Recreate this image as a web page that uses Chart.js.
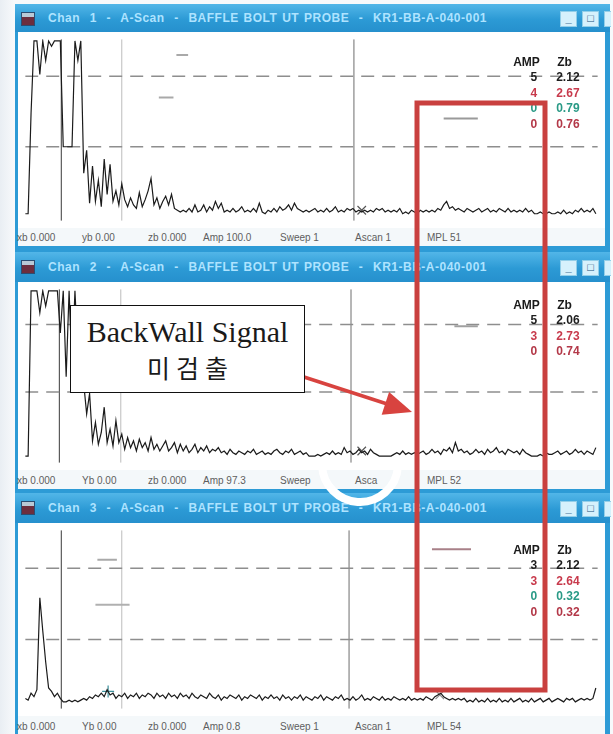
<!DOCTYPE html>
<html>
<head>
<meta charset="utf-8">
<script src="https://cdn.jsdelivr.net/npm/chart.js@4.4.1/dist/chart.umd.min.js"></script>
<style>
  html, body { margin: 0; padding: 0; }
  body { width: 613px; height: 734px; position: relative; overflow: hidden;
         background: linear-gradient(90deg, #e9eef3 0, #f7f9fb 14px, #f7f9fb 100%);
         font-family: "Liberation Sans", Arial, sans-serif; }
  .win { position: absolute; left: 15px; width: 595px; background: #2d9bd6; }
  .bar { position: absolute; left: 0; right: 0; top: 0;
         background: linear-gradient(#52b6e8, #2c9ad5 55%, #2690cd); }
  .ico { position: absolute; left: 6px; top: 8px; width: 12px; height: 12px;
         background: #6d2e3e; border: 1px solid #2b4d72; box-shadow: inset 0 4px 0 #b9c9d6; }
  .cap { position: absolute; left: 33px; color: #aee3ff; font-size: 12px; font-weight: bold;
         letter-spacing: 0.5px; word-spacing: 1px; white-space: pre; }
  .btn { position: absolute; width: 15px; height: 14px; background: #d6f1fc; border: 1px solid #93cfe9;
         color: #20507a; font-size: 11px; line-height: 12px; text-align: center; font-weight: bold; }
  .plot { position: absolute; left: 3px; background: #fff; }
  .status { position: absolute; left: 3px; width: 587px; background: #f4f8fa; color: #5e5e5e; font-size: 10px; }
  .status span { position: absolute; white-space: pre; }
  #marks { position: absolute; left: 0; top: 0; z-index: 5; pointer-events: none; }
  #callout { position: absolute; left: 70px; top: 305px; width: 233px; height: 86px; z-index: 6;
             background: #fff; border: 1.5px solid #111; text-align: center; color: #1a1a1a; }
  #callout .en { font-family: "Liberation Serif", "Times New Roman", serif; font-size: 30px; margin-top: 10px; line-height: 32px; }
  #callout .ko { font-family: "Noto Sans CJK KR", sans-serif; font-size: 25px; font-weight: 400; letter-spacing: 6px;
                 line-height: 34px; margin-top: 2px; padding-left: 6px; }
</style>
</head>
<body>
<canvas id="marks" width="613" height="734"></canvas>
<div id="callout"><div class="en">BackWall Signal</div><div class="ko">미검출</div></div>
<script>
// sweep sampling: one amplitude value every STEP units along the time base
const STEP = 3;
const SWEEP_END = 587;

// amplitude (% screen height) per sample, channel 1
const ascan1 = [
  1, 1, 58, 99, 99, 80, 99, 88, 99, 96, 99, 99, 99, 39, 39, 39, 39, 99, 88, 99,
  24, 37, 7, 28, 8, 20, 5, 32, 12, 29, 8, 14, 6, 18, 9, 5, 10, 6, 4, 13,
  5, 9, 14, 21, 6, 10, 4, 8, 11, 6, 12, 4, 3, 2, 3, 2, 4, 2, 6, 2,
  3, 6, 2, 5, 3, 8, 4, 7, 2, 3, 2, 4, 2, 3, 5, 2, 3, 2, 4, 2,
  7, 2, 1, 3, 2, 4, 2, 5, 3, 4, 6, 3, 7, 4, 3, 2, 3, 2, 3, 4,
  2, 3, 2, 4, 2, 3, 5, 2, 3, 2, 4, 3, 4, 2, 3, 2, 3, 2, 3, 2,
  4, 3, 4, 2, 3, 2, 3, 2, 4, 1, 2, 1, 3, 2, 1, 3, 2, 3, 2, 3,
  2, 4, 3, 6, 8, 4, 5, 3, 4, 3, 2, 4, 3, 2, 3, 4, 2, 3, 4, 2,
  3, 2, 4, 3, 2, 4, 2, 3, 2, 3, 2, 4, 2, 3, 1, 1, 2, 1, 1, 2,
  1, 1, 2, 1, 3, 1, 2, 1, 3, 2, 4, 2, 3, 2, 4, 1
];

// channel 2
const ascan2 = [
  1, 1, 99, 99, 99, 86, 99, 90, 99, 99, 99, 99, 74, 99, 48, 99, 52, 99, 62, 48,
  44, 26, 38, 10, 21, 8, 15, 30, 9, 17, 7, 22, 9, 14, 5, 12, 6, 10, 4, 11,
  6, 9, 4, 12, 5, 8, 4, 7, 10, 4, 6, 9, 3, 8, 4, 7, 3, 5, 8, 3,
  6, 4, 7, 3, 5, 4, 6, 3, 4, 2, 5, 3, 2, 4, 3, 2, 4, 3, 5, 2,
  3, 4, 2, 3, 2, 4, 5, 3, 2, 4, 3, 5, 2, 3, 4, 2, 3, 1, 1, 1,
  2, 1, 2, 3, 2, 4, 2, 3, 2, 6, 3, 4, 2, 3, 5, 3, 4, 2, 5, 3,
  2, 1, 1, 1, 1, 1, 2, 3, 2, 4, 2, 3, 2, 3, 2, 3, 4, 2, 3, 5,
  3, 4, 2, 5, 4, 6, 3, 9, 4, 5, 3, 4, 2, 3, 5, 3, 4, 2, 5, 3,
  4, 6, 3, 4, 2, 5, 4, 3, 4, 2, 5, 3, 2, 1, 1, 1, 2, 1, 3, 2,
  2, 3, 4, 2, 3, 4, 2, 3, 5, 3, 4, 2, 4, 3, 2, 6
];

// channel 3
const ascan3 = [
  3, 2, 6, 4, 8, 61, 42, 24, 9, 7, 4, 6, 3, 1, 1, 2, 1, 2, 1, 2,
  3, 2, 4, 3, 5, 4, 6, 4, 8, 5, 6, 3, 5, 4, 6, 3, 5, 4, 6, 3,
  5, 4, 6, 5, 3, 6, 4, 5, 3, 6, 4, 5, 3, 6, 4, 5, 3, 6, 4, 3,
  5, 4, 3, 6, 4, 3, 5, 2, 4, 3, 5, 4, 3, 5, 2, 4, 3, 5, 4, 3,
  5, 2, 4, 3, 5, 3, 4, 2, 5, 3, 4, 2, 4, 3, 5, 2, 4, 3, 2, 4,
  3, 5, 2, 4, 3, 2, 4, 3, 5, 2, 3, 2, 4, 2, 3, 5, 2, 3, 2, 4,
  3, 2, 4, 2, 3, 2, 4, 3, 2, 3, 2, 4, 2, 3, 2, 3, 2, 4, 3, 2,
  4, 5, 6, 4, 3, 2, 3, 2, 3, 2, 3, 1, 2, 1, 3, 1, 2, 1, 3, 1,
  2, 1, 3, 1, 2, 1, 3, 1, 2, 3, 1, 2, 1, 3, 1, 2, 3, 1, 2, 3,
  1, 2, 3, 2, 1, 3, 2, 3, 1, 2, 3, 2, 3, 2, 3, 9
];

// dashed reference levels (% screen height)
const refLevels1 = [79, 39];
const refLevels2 = [79, 39];
const refLevels3 = [78, 37];

// cursor positions along the sweep
const cursors1 = [37, 99, 337];
const cursors2 = [35, 98, 334];
const cursors3 = [37, 99, 332];

// gates: [start, end, level, colour]
const gates1 = [[137, 152, 67, '#a9a9a9'], [155, 167, 91, '#a9a9a9'], [429, 464, 55, '#9a9a9a']];
const gates2 = [[440, 464, 78, '#a0a0a0']];
const gates3 = [[74, 94, 83, '#a9a9a9'], [72, 107, 57, '#b0b0b0'], [417, 457, 89, '#a88088']];

// peak markers: [position, amplitude, style, colour]
const peaks1 = [[345, 3, 'crossRot', '#555']];
const peaks2 = [[345, 4, 'crossRot', '#555']];
const peaks3 = [[85, 7, 'cross', '#3a8f9a'], [425, 5, 'crossRot', '#888']];

// AMP / Zb readouts
const amp1 = ['5', '4', '0', '0'];
const zb1 = ['2.12', '2.67', '0.79', '0.76'];
const rowColors1 = ['#1e1e1e', '#c83a4c', '#2a9a86', '#b33848'];
const amp2 = ['5', '3', '0'];
const zb2 = ['2.06', '2.73', '0.74'];
const rowColors2 = ['#1e1e1e', '#c83a4c', '#b33848'];
const amp3 = ['3', '3', '0', '0'];
const zb3 = ['2.12', '2.64', '0.32', '0.32'];
const rowColors3 = ['#1e1e1e', '#c83a4c', '#2a9a86', '#b33848'];

const captions = [
  'Chan  1  -  A-Scan  -  BAFFLE BOLT UT PROBE  -  KR1-BB-A-040-001',
  'Chan  2  -  A-Scan  -  BAFFLE BOLT UT PROBE  -  KR1-BB-A-040-001',
  'Chan  3  -  A-Scan  -  BAFFLE BOLT UT PROBE  -  KR1-BB-A-040-001'
];
const status1 = ['xb 0.000', 'yb 0.00', 'zb 0.000', 'Amp 100.0', 'Sweep 1', 'Ascan 1', 'MPL 51'];
const status2 = ['xb 0.000', 'Yb 0.00', 'zb 0.000', 'Amp 97.3', 'Sweep', 'Asca', 'MPL 52'];
const status3 = ['xb 0.000', 'Yb 0.00', 'zb 0.000', 'Amp 0.8', 'Sweep 1', 'Ascan 1', 'MPL 54'];
const statusX = [-1, 64, 130, 185, 262, 337, 409];

// draws the AMP/Zb readout block in the upper right of each scan
const ampTable = {
  id: 'ampTable',
  afterDatasetsDraw(chart, args, opts) {
    const ctx = chart.ctx;
    const left = chart.chartArea.left, top = chart.chartArea.top;
    ctx.save();
    ctx.font = 'bold 12px "Liberation Sans", Arial, sans-serif';
    ctx.textBaseline = 'middle';
    ctx.fillStyle = '#1a1a1a';
    ctx.textAlign = 'left';
    ctx.fillText('AMP', left + 488, top + opts.top);
    ctx.fillText('Zb', left + 532, top + opts.top);
    opts.amp.forEach((a, k) => {
      const y = top + opts.top + 15.5 * (k + 1);
      ctx.fillStyle = opts.colors[k];
      ctx.textAlign = 'right';
      ctx.fillText(a, left + 512, y);
      ctx.textAlign = 'left';
      ctx.fillText(opts.zb[k], left + 531, y);
    });
    ctx.restore();
  }
};

function buildScan(cfg) {
  const win = document.createElement('div');
  win.className = 'win';
  win.style.top = cfg.top + 'px';
  win.style.height = cfg.height + 'px';

  const bar = document.createElement('div');
  bar.className = 'bar';
  bar.style.height = cfg.barH + 'px';
  bar.innerHTML = '<div class="ico"></div>' +
    '<div class="cap" style="top:' + (cfg.barH / 2 - 7) + 'px">' + cfg.caption + '</div>' +
    '<div class="btn" style="left:545px;top:' + (cfg.barH / 2 - 7) + 'px">_</div>' +
    '<div class="btn" style="left:567px;top:' + (cfg.barH / 2 - 7) + 'px">&#9633;</div>' +
    '<div class="btn" style="left:589px;top:' + (cfg.barH / 2 - 7) + 'px;width:6px;border-right:0"></div>';
  win.appendChild(bar);

  const canvas = document.createElement('canvas');
  canvas.className = 'plot';
  canvas.width = 587;
  canvas.height = cfg.plotH;
  canvas.style.top = cfg.barH + 'px';
  win.appendChild(canvas);

  const st = document.createElement('div');
  st.className = 'status';
  st.style.top = (cfg.barH + cfg.plotH) + 'px';
  st.style.height = cfg.statusH + 'px';
  cfg.status.forEach((s, k) => {
    const sp = document.createElement('span');
    sp.textContent = s;
    sp.style.left = statusX[k] + 'px';
    sp.style.top = cfg.statusTextTop + 'px';
    st.appendChild(sp);
  });
  win.appendChild(st);
  document.body.appendChild(win);

  const cursorColors = ['#3a3a3a', '#bdbdbd', '#6e6e6e'];
  const datasets = [{
    data: cfg.trace.map((v, i) => ({ x: i * STEP, y: v })),
    borderColor: '#1b1b1b', borderWidth: 1.2, pointRadius: 0, order: 0
  }];
  cfg.levels.forEach(l => datasets.push({
    data: [{ x: 0, y: l }, { x: SWEEP_END, y: l }],
    borderColor: '#8e8e8e', borderWidth: 1.5, borderDash: [13, 8], pointRadius: 0, order: 3
  }));
  cfg.cursors.forEach((c, k) => datasets.push({
    data: [{ x: c, y: cfg.yMin }, { x: c, y: 100 }],
    borderColor: cursorColors[k], borderWidth: 1, pointRadius: 0, order: 4
  }));
  cfg.gates.forEach(g => datasets.push({
    data: [{ x: g[0], y: g[2] }, { x: g[1], y: g[2] }],
    borderColor: g[3], borderWidth: 2, pointRadius: 0, order: 2
  }));
  cfg.peaks.forEach(p => datasets.push({
    type: 'scatter',
    data: [{ x: p[0], y: p[1] }],
    pointStyle: p[2], pointRadius: 6, borderColor: p[3], borderWidth: 1.2, order: 1
  }));

  new Chart(canvas, {
    type: 'line',
    data: { datasets },
    options: {
      responsive: false,
      animation: false,
      events: [],
      layout: { padding: 0 },
      elements: { line: { tension: 0 } },
      scales: {
        x: { type: 'linear', min: 0, max: SWEEP_END, display: false },
        y: { min: cfg.yMin, max: 100, display: false }
      },
      plugins: {
        legend: { display: false },
        tooltip: { enabled: false },
        ampTable: { amp: cfg.amp, zb: cfg.zb, colors: cfg.colors, top: cfg.tableTop }
      }
    },
    plugins: [ampTable]
  });
}

buildScan({ top: 4, height: 248, barH: 28, plotH: 196, statusH: 18, statusTextTop: 4,
  caption: captions[0], status: status1, trace: ascan1, levels: refLevels1, cursors: cursors1,
  gates: gates1, peaks: peaks1, yMin: -3, amp: amp1, zb: zb1, colors: rowColors1, tableTop: 23 });
buildScan({ top: 252, height: 241, barH: 30, plotH: 188, statusH: 19, statusTextTop: 5,
  caption: captions[1], status: status2, trace: ascan2, levels: refLevels2, cursors: cursors2,
  gates: gates2, peaks: peaks2, yMin: -3, amp: amp2, zb: zb2, colors: rowColors2, tableTop: 16 });
buildScan({ top: 493, height: 241, barH: 30, plotH: 193, statusH: 18, statusTextTop: 5,
  caption: captions[2], status: status3, trace: ascan3, levels: refLevels3, cursors: cursors3,
  gates: gates3, peaks: peaks3, yMin: -3, amp: amp3, zb: zb3, colors: rowColors3, tableTop: 20 });

// highlight box, pointer arrow and the erased ring over channel 2's status bar
const mk = document.getElementById('marks').getContext('2d');
mk.strokeStyle = '#ffffff';
mk.lineWidth = 8;
mk.beginPath();
mk.arc(360, 464, 38, 0.02 * Math.PI, 0.98 * Math.PI);
mk.stroke();

mk.strokeStyle = '#c9403f';
mk.lineWidth = 5;
mk.strokeRect(417, 103, 128, 587);

mk.strokeStyle = '#d8433f';
mk.fillStyle = '#d8433f';
mk.lineWidth = 3.5;
const ax0 = 304, ay0 = 377, ax1 = 412, ay1 = 412;
const ang = Math.atan2(ay1 - ay0, ax1 - ax0);
mk.beginPath();
mk.moveTo(ax0, ay0);
mk.lineTo(ax1 - 22 * Math.cos(ang), ay1 - 22 * Math.sin(ang));
mk.stroke();
mk.beginPath();
mk.moveTo(ax1, ay1);
mk.lineTo(ax1 - 28 * Math.cos(ang) + 12 * Math.sin(ang), ay1 - 28 * Math.sin(ang) - 12 * Math.cos(ang));
mk.lineTo(ax1 - 28 * Math.cos(ang) - 12 * Math.sin(ang), ay1 - 28 * Math.sin(ang) + 12 * Math.cos(ang));
mk.closePath();
mk.fill();
</script>
</body>
</html>
